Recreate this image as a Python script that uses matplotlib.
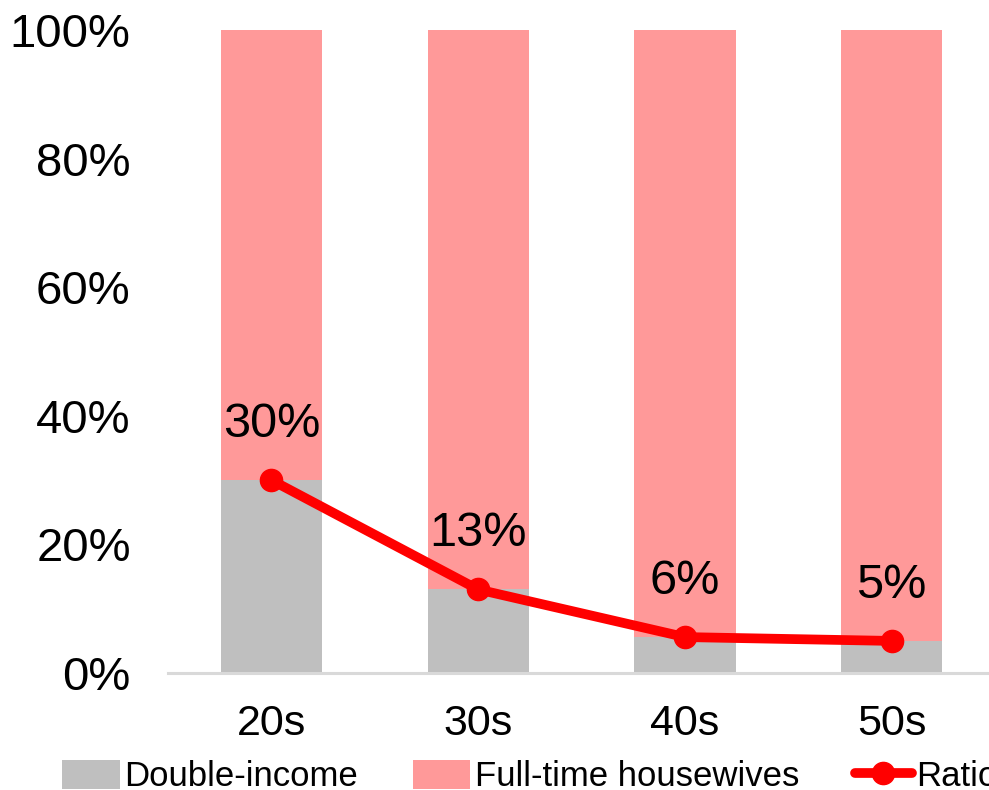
import numpy as np
import matplotlib.pyplot as plt

plt.rcParams['font.family'] = ['Liberation Sans', 'DejaVu Sans']

# Share of double-income households by age group
ages = ['20s', '30s', '40s', '50s']
double_income = [0.30, 0.13, 0.056, 0.05]
housewives = [1 - v for v in double_income]
ratio = [0.30, 0.13, 0.056, 0.05]

fig = plt.figure(figsize=(9.89, 7.90), dpi=100)
ax = fig.add_axes([0.170, 0.148, 0.836, 0.814])

x = np.arange(len(ages))
b1 = ax.bar(x, double_income, width=0.49, color='#BFBFBF', label='Double-income')
b2 = ax.bar(x, housewives, width=0.49, bottom=double_income, color='#FF9999',
            label='Full-time housewives')
ln, = ax.plot(x, ratio, color='#FF0000', lw=7, marker='o', ms=16,
              solid_capstyle='round', label='Ratio', zorder=3)

for xi, v in zip(x, ratio):
    ax.annotate(f'{v:.0%}', (xi, v), xytext=(0, 40), textcoords='offset points',
                ha='center', va='center', fontsize=35)

ax.set_xlim(-0.5, 3.5)
ax.set_ylim(0, 1)
ax.set_xticks(x)
ax.set_xticklabels(ages, fontsize=31)
ax.set_yticks(np.arange(0, 1.01, 0.2))
ax.set_yticklabels([f'{int(t * 100)}%' for t in np.arange(0, 1.01, 0.2)], fontsize=34)
ax.tick_params(length=0)
ax.tick_params(axis='x', pad=22)
ax.tick_params(axis='y', pad=27)

for s in ['top', 'right', 'left']:
    ax.spines[s].set_visible(False)
ax.spines['bottom'].set_color('#D9D9D9')
ax.spines['bottom'].set_linewidth(2.2)

fig.legend([b1, b2, ln], ['Double-income', 'Full-time housewives', 'Ratio'],
           loc='lower left', bbox_to_anchor=(0.049, -0.022), ncol=3,
           frameon=False, fontsize=25, handlelength=1.65, handleheight=0.9,
           handletextpad=0.12, columnspacing=1.6, borderaxespad=0)

fig.savefig('out.png', dpi=100)
